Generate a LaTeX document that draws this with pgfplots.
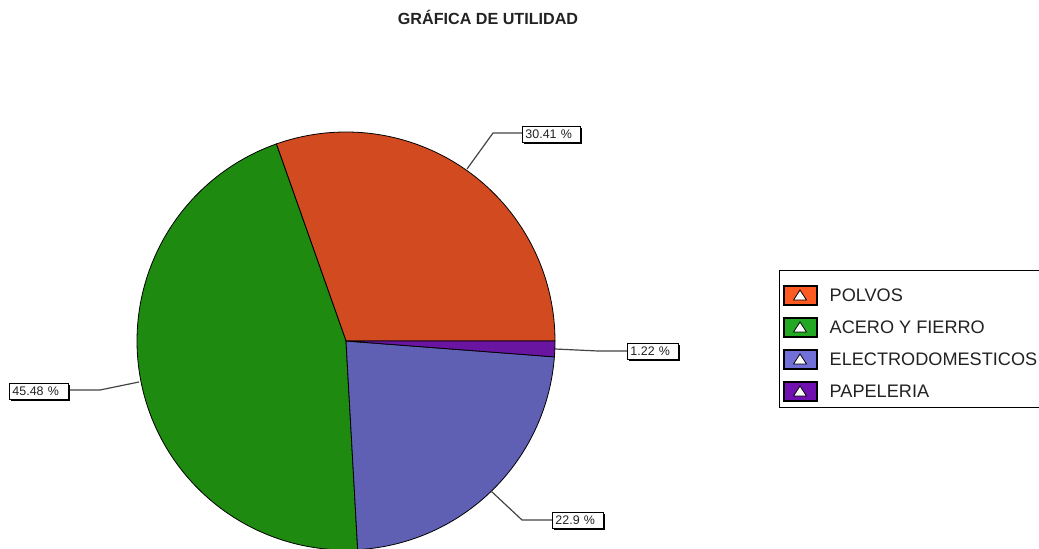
\documentclass[border=0pt]{standalone}
\usepackage{pgfplots}
\usepackage{pgfplotstable}
\pgfplotsset{compat=1.18}
\usepackage{fontspec}
\setmainfont{Liberation Sans}
\definecolor{cA}{HTML}{D24A1F}
\definecolor{cB}{HTML}{1F8A10}
\definecolor{cC}{HTML}{5F5FB4}
\definecolor{cD}{HTML}{6A14A2}
\definecolor{lA}{HTML}{FF5A22}
\definecolor{lB}{HTML}{22A822}
\definecolor{lC}{HTML}{7070D8}
\definecolor{lD}{HTML}{7010B0}
\definecolor{lead}{HTML}{444444}
\definecolor{txt}{HTML}{222222}

\pgfplotstableread{
label pct
POLVOS 30.41
ACERO 45.48
ELECTRO 22.9
PAPELERIA 1.22
}\piedata
\pgfplotstablegetelem{0}{pct}\of\piedata \let\pA\pgfplotsretval
\pgfplotstablegetelem{1}{pct}\of\piedata \let\pB\pgfplotsretval
\pgfplotstablegetelem{2}{pct}\of\piedata \let\pC\pgfplotsretval
\pgfplotstablegetelem{3}{pct}\of\piedata \let\pD\pgfplotsretval
\pgfmathsetmacro\aA{3.6*\pA}
\pgfmathsetmacro\aB{\aA+3.6*\pB}
\pgfmathsetmacro\aC{\aB+3.6*\pC}
\def\aD{360}
\def\cx{346}\def\cy{341}\def\rr{209}

\begin{document}
\begin{tikzpicture}[x=1bp,y=1bp]
\begin{axis}[at={(0,0)},anchor=south west,
  width=1039bp,height=549bp,scale only axis,
  xmin=0,xmax=1039,ymin=0,ymax=549,y dir=reverse,
  hide axis,clip=false]
% pie slices
\addplot[fill=cA,draw=black,line width=0.8bp,domain=0:\aA,samples=80,variable=\t]
  ({\cx+\rr*cos(t)},{\cy-\rr*sin(t)}) -- (\cx,\cy) -- cycle;
\addplot[fill=cB,draw=black,line width=0.8bp,domain=\aA:\aB,samples=120,variable=\t]
  ({\cx+\rr*cos(t)},{\cy-\rr*sin(t)}) -- (\cx,\cy) -- cycle;
\addplot[fill=cC,draw=black,line width=0.8bp,domain=\aB:\aC,samples=80,variable=\t]
  ({\cx+\rr*cos(t)},{\cy-\rr*sin(t)}) -- (\cx,\cy) -- cycle;
\addplot[fill=cD,draw=black,line width=0.8bp,domain=\aC:\aD,samples=10,variable=\t]
  ({\cx+\rr*cos(t)},{\cy-\rr*sin(t)}) -- (\cx,\cy) -- cycle;
% leader lines
\draw[lead,line width=1.2bp] (467,169) -- (493,133) -- (522,133);
\draw[lead,line width=1.2bp] (555,349) -- (598,351) -- (627,351);
\draw[lead,line width=1.2bp] (139,382) -- (100,390) -- (68,390);
\draw[lead,line width=1.2bp] (491,491) -- (522,520) -- (552,520);
% label boxes
\tikzset{lbl/.style={draw=black,fill=white,line width=0.9bp,inner sep=0pt,text=txt,
  minimum height=16bp,font=\fontsize{12.5}{13}\selectfont,anchor=west,align=left,text depth=0pt}}
\fill[black] (524,128) rectangle (582,144);
\node[lbl,minimum width=58bp,text width=55bp] at (522,134.5) {\hspace*{1.5bp}30.41 \%};
\fill[black] (629,345) rectangle (680,361);
\node[lbl,minimum width=51bp,text width=48bp] at (627,351.5) {\hspace*{1.5bp}1.22 \%};
\fill[black] (11,385) rectangle (70,401);
\node[lbl,minimum width=59bp,text width=56bp] at (9,391) {\hspace*{1.5bp}45.48 \%};
\fill[black] (554,514) rectangle (605,530);
\node[lbl,minimum width=51bp,text width=48bp] at (552,520) {\hspace*{1.5bp}22.9 \%};
% title
\node[text=txt,font=\bfseries\fontsize{16.2}{18}\selectfont] at (488,17) {GRÁFICA DE UTILIDAD};
\end{axis}
% legend (picture coordinates: y up, 1bp = 1px)
\draw[black,line width=1bp,fill=white] (779.5,278.5) rectangle (1050,141);
\foreach \col/\txt [count=\i from 0] in {lA/POLVOS,lB/ACERO Y FIERRO,lC/ELECTRODOMESTICOS,lD/PAPELERIA}{
  \pgfmathsetmacro\yy{254-32*\i}
  \fill[black] (783,\yy+10) rectangle (818,\yy-11);
  \fill[\col] (785,\yy+8) rectangle (816,\yy-9);
  \draw[black,fill=white,line width=0.8bp] (793.5,\yy-5) -- (806.5,\yy-5) -- (800,\yy+5) -- cycle;
  \node[anchor=west,text=txt,font=\fontsize{18.2}{20}\selectfont,inner sep=0pt] at (829.5,\yy) {\txt};
}
\pgfresetboundingbox
\useasboundingbox (0,0) rectangle (1039,549);
\end{tikzpicture}
\end{document}
